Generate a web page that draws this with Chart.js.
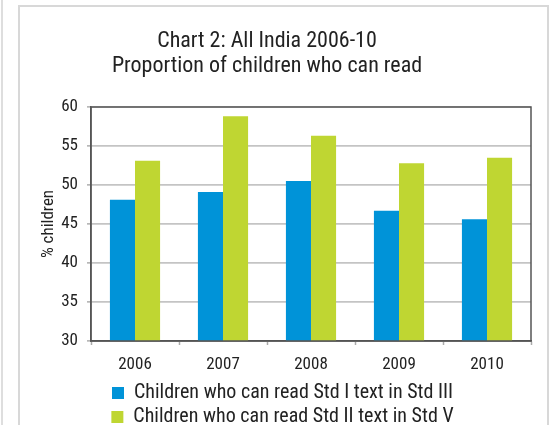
<!DOCTYPE html>
<html>
<head>
<meta charset="utf-8">
<script src="https://cdn.jsdelivr.net/npm/chart.js@4"></script>
<style>
  html, body { margin: 0; padding: 0; background: #fff; overflow: hidden; }
  #wrap { position: relative; width: 551px; height: 425px; }
  #outer { position: absolute; left: 1px; top: 0; width: 2px; height: 425px; background: #dedede; }
  #panel { position: absolute; left: 18px; top: 5px; width: 527px; height: 430px;
           border: 2px solid #d8d8d8; border-bottom: none; }
  canvas { position: absolute; left: 0; top: 0; }
</style>
</head>
<body>
<div id="wrap">
  <div id="outer"></div>
  <div id="panel"></div>
  <canvas id="chart" width="551" height="425"></canvas>
</div>
<script>
const titleLines = ["Chart 2: All India 2006-10", "Proportion of children who can read"];
const categories = ["2006", "2007", "2008", "2009", "2010"];
const seriesNames = ["Children who can read Std I text in Std III", "Children who can read Std II text in Std V"];
const stdIIIValues = [48.1, 49.1, 50.5, 46.7, 45.6];
const stdVValues = [53.1, 58.8, 56.3, 52.8, 53.5];
const yAxisTitle = "% children";
const yMin = 30, yMax = 60, yStep = 5;

const FONT = '"Roboto Condensed", "Roboto", sans-serif';
const DARK = '#555555';
const GRID = '#c4c4c4';
const TEXT = '#222222';

const titlePlugin = {
  id: 'panelTitle',
  afterDraw(chart) {
    const ctx = chart.ctx;
    ctx.save();
    ctx.font = '22px ' + FONT;
    ctx.fillStyle = TEXT;
    ctx.textAlign = 'center';
    ctx.textBaseline = 'alphabetic';
    titleLines.forEach((t, i) => ctx.fillText(t, 267, 47 + i * 24.5));
    ctx.restore();
  }
};

const framePlugin = {
  id: 'plotFrame',
  afterDatasetsDraw(chart) {
    const {ctx, chartArea: a} = chart;
    ctx.save();
    ctx.strokeStyle = DARK;
    ctx.lineWidth = 1.5;
    ctx.strokeRect(a.left, a.top, a.right - a.left, a.bottom - a.top);
    ctx.restore();
  }
};

new Chart(document.getElementById('chart'), {
  type: 'bar',
  data: {
    labels: categories,
    datasets: [
      { label: seriesNames[0], data: stdIIIValues, backgroundColor: '#0093d8', borderWidth: 0 },
      { label: seriesNames[1], data: stdVValues, backgroundColor: '#bfd632', borderWidth: 0 }
    ]
  },
  options: {
    responsive: false,
    animation: false,
    devicePixelRatio: 1,
    categoryPercentage: 0.57,
    barPercentage: 1.0,
    layout: { padding: { top: 107, right: 20, bottom: -12, left: 34 } },
    plugins: {
      title: { display: false },
      tooltip: { enabled: false },
      legend: {
        display: true,
        position: 'bottom',
        align: 'center',
        labels: {
          boxWidth: 12,
          boxHeight: 12,
          padding: 4,
          color: TEXT,
          font: { family: FONT, size: 20 }
        }
      }
    },
    scales: {
      x: {
        offset: true,
        afterFit(s) { s.height = 38; },
        grid: { display: true, drawOnChartArea: false, drawTicks: true, tickLength: 4, color: '#aaaaaa', tickWidth: 1.5 },
        border: { display: true, color: DARK, width: 1.5 },
        ticks: { color: TEXT, padding: 10, font: { family: FONT, size: 17 } }
      },
      y: {
        min: yMin,
        max: yMax,
        afterFit(s) { s.width = 57; },
        ticks: { stepSize: yStep, color: TEXT, padding: 9, font: { family: FONT, size: 17 } },
        grid: { color: GRID, lineWidth: 1.8, drawTicks: true, tickLength: 4, tickColor: '#999999', tickWidth: 1.2 },
        border: { display: true, color: DARK, width: 1.5 },
        title: { display: true, text: yAxisTitle, color: TEXT, font: { family: FONT, size: 17 }, padding: { top: 5, bottom: 0 } }
      }
    }
  },
  plugins: [titlePlugin, framePlugin]
});
</script>
</body>
</html>
